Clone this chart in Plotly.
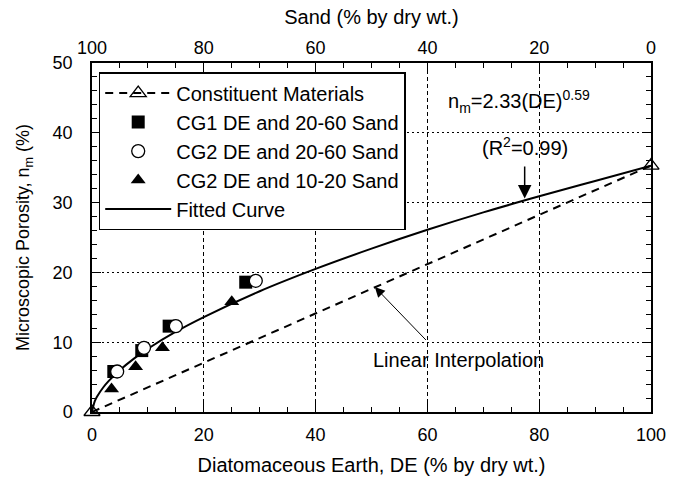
import plotly.graph_objects as go

# ---- data ----
const_de = [0, 100]
const_nm = [0.0, 35.3]

cg1_de = [3.9, 8.9, 13.8, 27.5]
cg1_nm = [5.8, 8.8, 12.3, 18.6]

cg2_de = [4.5, 9.3, 15.0, 29.3]
cg2_nm = [5.8, 9.2, 12.3, 18.8]

cg2b_de = [3.5, 7.8, 12.6, 25.0]
cg2b_nm = [3.3, 6.5, 9.2, 15.8]

fit_de = [0, 0.5, 1, 2, 3, 5, 7.5, 10, 15, 20, 30, 40, 50, 60, 70, 80, 90, 100]
fit_nm = [0, 1.55, 2.33, 3.51, 4.45, 6.02, 7.65, 9.06, 11.5, 13.6, 17.3, 20.5, 23.4, 26.1, 28.6, 30.9, 33.1, 35.3]

x_ticks = [0, 20, 40, 60, 80, 100]
sand_ticks = [100, 80, 60, 40, 20, 0]
y_ticks = [0, 10, 20, 30, 40, 50]

FONT = "Liberation Sans, Arial, Helvetica, sans-serif"

fig = go.Figure()

fig.add_trace(go.Scatter(
    x=fit_de, y=fit_nm, mode="lines", name="Fitted Curve",
    line=dict(color="black", width=2, shape="spline"), legendrank=5))

fig.add_trace(go.Scatter(
    x=const_de, y=const_nm, mode="lines+markers", name="Constituent Materials",
    line=dict(color="black", width=2, dash="8px,6px"),
    marker=dict(symbol="triangle-up-open", size=14, color="black", line=dict(width=1.3)),
    cliponaxis=False, legendrank=1))

fig.add_trace(go.Scatter(
    x=cg1_de, y=cg1_nm, mode="markers", name="CG1 DE and 20-60 Sand",
    marker=dict(symbol="square", size=13, color="black"), legendrank=2))

fig.add_trace(go.Scatter(
    x=cg2_de, y=cg2_nm, mode="markers", name="CG2 DE and 20-60 Sand",
    marker=dict(symbol="circle", size=13, color="white", line=dict(color="black", width=1.3)),
    legendrank=3))

fig.add_trace(go.Scatter(
    x=cg2b_de, y=cg2b_nm, mode="markers", name="CG2 DE and 10-20 Sand",
    marker=dict(symbol="triangle-up", size=13, color="black"), legendrank=4))

# invisible trace on the top (sand) axis
fig.add_trace(go.Scatter(
    x=sand_ticks, y=[None] * len(sand_ticks), xaxis="x2", mode="markers",
    showlegend=False, hoverinfo="skip", marker=dict(opacity=0)))

axis_common = dict(
    showline=True, linecolor="black", linewidth=1.5,
    ticks="inside", tickcolor="black", tickwidth=1.3,
    tickfont=dict(family=FONT, size=18, color="black"),
    zeroline=False,
)

fig.update_layout(
    width=678, height=485,
    margin=dict(l=92, r=19, t=63, b=70),
    paper_bgcolor="white", plot_bgcolor="white",
    font=dict(family=FONT, color="black", size=18),
    xaxis=dict(
        range=[0, 100], tickvals=x_ticks, ticklen=9,
        minor=dict(dtick=5, ticklen=5, ticks="inside", tickcolor="black", tickwidth=1.2, showgrid=False),
        showgrid=True, gridcolor="black", gridwidth=1, griddash="4px,3px",
        mirror=True, ticklabelstandoff=6,
        title=dict(text="Diatomaceous Earth, DE (% by dry wt.)", standoff=14,
                   font=dict(family=FONT, size=20, color="black")),
        **axis_common),
    xaxis2=dict(
        range=[100, 0], overlaying="x", side="top", tickvals=sand_ticks, ticklen=9,
        minor=dict(dtick=5, ticklen=5, ticks="inside", tickcolor="black", tickwidth=1.2, showgrid=False),
        showgrid=False,
        title=dict(text="Sand (% by dry wt.)", standoff=8,
                   font=dict(family=FONT, size=20, color="black")),
        **axis_common),
    yaxis=dict(
        range=[0, 50], tickvals=y_ticks, ticklen=9,
        minor=dict(dtick=2, ticklen=5, ticks="inside", tickcolor="black", tickwidth=1.2, showgrid=False),
        showgrid=True, gridcolor="black", gridwidth=1, griddash="2px,3px",
        mirror="ticks", ticklabelstandoff=14,
        title=dict(text="Microscopic Porosity, n<sub>m</sub> (%)", standoff=18,
                   font=dict(family=FONT, size=18, color="black")),
        **axis_common),
    legend=dict(
        x=0.012, y=0.974, xanchor="left", yanchor="top",
        bgcolor="white", bordercolor="black", borderwidth=1.5,
        font=dict(family=FONT, size=20, color="black"),
        itemwidth=66, tracegroupgap=0,
    ),
    showlegend=True,
)

fig.add_annotation(x=76.4, y=44.5, xref="x", yref="y",
                   text="n<sub>m</sub>=2.33(DE)<sup>0.59</sup>", showarrow=False,
                   font=dict(family=FONT, size=20, color="black"))
fig.add_annotation(x=77.4, y=38.0, xref="x", yref="y",
                   text="(R<sup>2</sup>=0.99)", showarrow=False,
                   font=dict(family=FONT, size=20, color="black"))
fig.add_annotation(x=77.4, y=30.6, xref="x", yref="y", ax=77.4, ay=35.4,
                   axref="x", ayref="y", text="", showarrow=True,
                   arrowhead=2, arrowsize=1.8, arrowwidth=1.5, arrowcolor="black")
fig.add_annotation(x=65.6, y=7.4, xref="x", yref="y",
                   text="Linear Interpolation", showarrow=False,
                   font=dict(family=FONT, size=20, color="black"))
fig.add_annotation(x=50.6, y=17.9, xref="x", yref="y", ax=60, ay=10.1,
                   axref="x", ayref="y", text="", showarrow=True,
                   arrowhead=2, arrowsize=2, arrowwidth=1, arrowcolor="black")

fig.write_html("out.html")
